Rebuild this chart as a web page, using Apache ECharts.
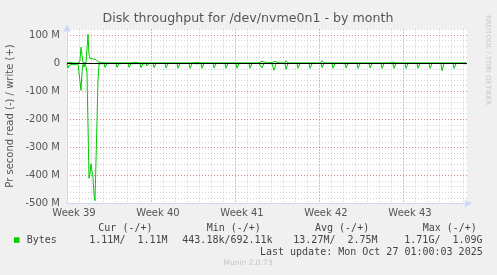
<!DOCTYPE html>
<html>
<head>
<meta charset="utf-8">
<script src="https://cdn.jsdelivr.net/npm/echarts@6/dist/echarts.min.js"></script>
<style>
html,body{margin:0;padding:0;background:#f0f0f0;}
#c{width:497px;height:275px;}
</style>
</head>
<body>
<div id="c"></div>
<script>
// Time axis: hours from the left edge of the plot (2h per sample, ~33 days shown)
const hours = [0,2,4,6,8,10,12,14,16,18,20,22,24,26,28,30,32,34,36,38,40,42,44,46,48,50,52,54,56,58,60,62,64,
  74,76,78,80, 98,100,102,104, 122,124,126,128, 132,134,136,138, 146,148,150,152, 158,160,162,164,
  172,174,176,178, 196,198,200,202, 220,222,224,226, 244,246,248,250, 252,262,264, 268,270,272,274,
  292,294,296,298, 316,318,320,322, 338,340,342,344, 364,366,368,370, 378,380,382,384, 388,390,392,394,
  400,402,410,414,416,418, 424,426,428,430, 436,438,440,442, 460,462,464,466, 484,486,488,490,
  496,498,500,502, 508,510,512,514, 530,532,534,536, 556,558,560,562, 580,582,584,586, 604,606,608,610,
  628,630,632,634, 644,646,652,654,656,658, 676,678,680,682, 700,702,704,706, 724,726,728,730,
  748,750,752,754, 760,762,764,766, 772,774,776,778, 794,796,798];
// write bytes per second (M), positive
const writeM = [1,6,1,3,1,0,1,0,1,0,1,1,2,10,57,28,3,1,2,1,8,103,30,17,16,16,15,14,15,13,14,5,1,
  1,7,4,1, 1,7,4,1, 1,7,4,1, 1,3,2,1, 1,7,4,1, 1,4,2,1,
  1,7,4,1, 1,8,4,1, 1,7,4,1, 1,7,4,1, 3,3,1, 1,8,4,1,
  1,7,4,1, 1,8,4,1, 1,7,4,1, 1,8,4,1, 1,3,2,1, 1,7,4,1,
  1,3,3,10,6,1, 1,3,2,1, 1,9,5,1, 1,7,4,1, 1,7,4,1,
  1,3,2,1, 1,9,5,1, 1,7,4,1, 1,7,4,1, 1,7,4,1, 1,7,4,1,
  1,7,4,1, 1,4,4,7,4,1, 1,7,4,1, 1,7,4,1, 1,7,4,1,
  1,8,4,1, 1,3,2,1, 1,8,4,1, 1,3,2];
// read bytes per second (M), drawn negative
const readM = [-3,-17,-8,-2,-9,-4,-7,-3,-6,-4,-5,-2,-4,-8,-97,-30,-4,-14,-2,-12,-36,-40,-410,-395,-358,-385,-406,-470,-490,-493,-488,-60,-3,
  -1,-15,-9,-1, -1,-15,-10,-1, -1,-15,-10,-1, -1,-2,-1,-1, -1,-16,-10,-1, -1,-10,-5,-1,
  -1,-16,-10,-1, -1,-17,-11,-1, -1,-18,-11,-1, -1,-18,-11,-1, -2,-2,-1, -1,-18,-11,-1,
  -1,-17,-10,-1, -1,-18,-11,-1, -1,-18,-11,-1, -1,-18,-11,-1, -1,-2,-1,-1, -1,-17,-10,-1,
  -1,-1,-2,-25,-14,-1, -1,-6,-3,-1, -1,-22,-12,-1, -1,-18,-11,-1, -1,-18,-11,-1,
  -1,-3,-1,-1, -1,-16,-10,-1, -1,-18,-11,-1, -1,-17,-10,-1, -1,-18,-11,-1, -1,-17,-10,-1,
  -1,-18,-11,-1, -1,-1,-2,-18,-11,-1, -1,-18,-11,-1, -1,-18,-11,-1, -1,-18,-11,-1,
  -1,-27,-14,-1, -1,-2,-1,-1, -1,-18,-11,-1, -1,-5,-3];

const weekTicks = [14, 182, 350, 518, 686];
const weekLabels = ['Week 39', 'Week 40', 'Week 41', 'Week 42', 'Week 43'];

const legendHead = ['Cur (-/+)', 'Min (-/+)', 'Avg (-/+)', 'Max (-/+)'];
const legendVals = ['1.11M/  1.11M', '443.18k/692.11k', '13.27M/  2.75M', '1.71G/  1.09G'];
const seriesName = 'Bytes';
const lastUpdate = 'Last update: Mon Oct 27 01:00:03 2025';

const writeData = hours.map((h, i) => [h, writeM[i]]);
const readData = hours.map((h, i) => [h, readM[i]]);

const AX = '#cfd6f8';
const TXT = '#555';
const MONO = '"DejaVu Sans Mono", monospace';
const SANS = '"DejaVu Sans", sans-serif';
const minorLine = { show: true, showMinLine: false, showMaxLine: false, lineStyle: { color: 'rgba(150,150,150,0.45)', type: [1, 2], width: 1 } };
const majorLine = { show: true, showMinLine: false, showMaxLine: false, lineStyle: { color: 'rgba(235,80,80,0.6)', type: [1, 2], width: 1 } };

const chart = echarts.init(document.getElementById('c'), null, { renderer: 'canvas' });
const headX = [98.3, 206.7, 315, 422.7];
const valX = [89.3, 182.3, 293.3, 404.3];
const graphics = [
  { type: 'rect', shape: { x: 67, y: 29, width: 400, height: 174 }, style: { fill: '#ffffff' }, z: -10, silent: true },
  { type: 'text', x: 248, y: 19, style: { text: 'Disk throughput for /dev/nvme0n1 - by month', font: '12.6px ' + SANS, fill: TXT, textAlign: 'center', textVerticalAlign: 'middle', align: 'center', verticalAlign: 'middle' } },
  { type: 'text', x: 10.5, y: 116, rotation: Math.PI / 2, style: { text: 'Pr second read (-) / write (+)', font: '10px ' + SANS, fill: TXT, textAlign: 'center', textVerticalAlign: 'middle', align: 'center', verticalAlign: 'middle' } },
  { type: 'rect', shape: { x: 14, y: 237.3, width: 5.5, height: 5.5 }, style: { fill: '#00cc00' } },
  { type: 'text', x: 26.7, y: 240.5, style: { text: seriesName, font: '10px ' + MONO, fill: '#444', textAlign: 'left', textVerticalAlign: 'middle', align: 'left', verticalAlign: 'middle' } },
  { type: 'text', x: 482.7, y: 252.2, style: { text: lastUpdate, font: '10px ' + MONO, fill: '#444', textAlign: 'right', textVerticalAlign: 'middle', align: 'right', verticalAlign: 'middle' } },
  { type: 'text', x: 248, y: 263.5, style: { text: 'Munin 2.0.73', font: '7.5px ' + SANS, fill: '#c4c4c4', textAlign: 'center', textVerticalAlign: 'middle', align: 'center', verticalAlign: 'middle' } },
  { type: 'text', x: 488, y: 15, rotation: -Math.PI / 2, style: { text: 'RRDTOOL / TOBI OETIKER', font: '7px ' + SANS, fill: '#c8c8c8', textAlign: 'left', textVerticalAlign: 'middle', align: 'left', verticalAlign: 'middle' } }
];
legendHead.forEach((t, i) => graphics.push({ type: 'text', x: headX[i], y: 228.2, style: { text: t, font: '10px ' + MONO, fill: '#444', textAlign: 'left', textVerticalAlign: 'middle', align: 'left', verticalAlign: 'middle' } }));
legendVals.forEach((t, i) => graphics.push({ type: 'text', x: valX[i], y: 240.5, style: { text: t, font: '10px ' + MONO, fill: '#444', textAlign: 'left', textVerticalAlign: 'middle', align: 'left', verticalAlign: 'middle' } }));

chart.setOption({
  animation: false,
  backgroundColor: '#f0f0f0',
  grid: { left: 67, top: 29.5, width: 400, height: 174, containLabel: false },
  xAxis: [
    { type: 'value', min: 0, max: 800, position: 'bottom',
      axisLine: { show: true, onZero: false, lineStyle: { color: AX, width: 1 }, symbol: ['none', 'arrow'], symbolSize: [6, 8], symbolOffset: [0, 5] },
      axisTick: { show: false }, splitLine: { show: false },
      axisLabel: { show: true, customValues: weekTicks, margin: 5, color: TXT, fontSize: 10, fontFamily: SANS,
        formatter: v => { const i = weekTicks.indexOf(v); return i >= 0 ? weekLabels[i] : ''; } } },
    { type: 'value', min: -22, max: 778, interval: 24, position: 'bottom',
      axisLine: { show: false }, axisTick: { show: false }, axisLabel: { show: false }, splitLine: minorLine },
    { type: 'value', min: -70, max: 730, interval: 168, position: 'bottom',
      axisLine: { show: false }, axisTick: { show: false }, axisLabel: { show: false }, splitLine: majorLine }
  ],
  yAxis: [
    { type: 'value', min: -500, max: 120, interval: 100,
      axisLine: { show: true, onZero: false, lineStyle: { color: AX, width: 1 }, symbol: ['none', 'arrow'], symbolSize: [6, 8], symbolOffset: [0, 5] },
      axisTick: { show: false },
      axisLabel: { showMaxLabel: false, margin: 7, color: TXT, fontSize: 10, fontFamily: SANS,
        formatter: v => v === 0 ? '0' : v + ' M' },
      splitLine: majorLine, z: 2 },
    { type: 'value', min: -500, max: 120, interval: 20,
      axisLine: { show: false }, axisTick: { show: false }, axisLabel: { show: false },
      splitLine: { show: true, showMinLine: false, showMaxLine: true, lineStyle: minorLine.lineStyle }, z: 1 }
  ],
  graphic: graphics,
  series: [
    { type: 'line', name: 'write', data: writeData, xAxisIndex: 0, yAxisIndex: 0, showSymbol: false, symbol: 'none',
      lineStyle: { color: '#00cc00', width: 1 }, itemStyle: { color: '#00cc00' } },
    { type: 'line', name: 'read', data: readData, xAxisIndex: 0, yAxisIndex: 0, showSymbol: false, symbol: 'none',
      lineStyle: { color: '#00cc00', width: 1 }, itemStyle: { color: '#00cc00' },
      markLine: { silent: true, symbol: 'none', label: { show: false }, lineStyle: { color: '#000', width: 1.2, type: 'solid' }, data: [{ yAxis: 0 }] } }
  ]
});
</script>
</body>
</html>
